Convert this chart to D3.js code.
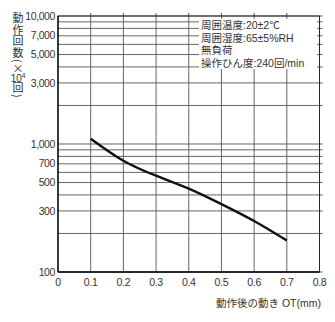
<!DOCTYPE html>
<html><head><meta charset="utf-8">
<script src="https://cdn.jsdelivr.net/npm/d3@7"></script>
<style>body{margin:0;background:#fff}svg{display:block}</style>
</head><body><svg id="c" width="335" height="322"></svg>
<script>
const otValues = [0.1, 0.2, 0.3, 0.4, 0.5, 0.6, 0.7];
const cycleValues = [1100, 740, 565, 448, 339, 250, 176];
const xTicks = [0, 0.1, 0.2, 0.3, 0.4, 0.5, 0.6, 0.7, 0.8];
const yTickLabels = [100, 300, 500, 700, 1000, 3000, 5000, 7000, 10000];
const yGrid = [100,200,300,400,500,600,700,800,900,1000,2000,3000,4000,5000,6000,7000,8000,9000,10000];
const notes = ["周囲温度:20±2℃", "周囲湿度:65±5%RH", "無負荷", "操作ひん度:240回/min"];
const xTitle = "動作後の動き OT(mm)";
const yTitleTop = "動作回数(×";
const yTitleExp = ["10", "4"];
const yTitleBottom = "回)";

const svg = d3.select("#c");
const L = 58, R = 319.5, T = 16, B = 272;
const x = d3.scaleLinear().domain([0, 0.8]).range([L, R]);
const y = d3.scaleLog().domain([100, 10000]).range([B, T]);
const txt = "#333", font = "'Liberation Sans', Arial, sans-serif", cjk = "'Noto Sans CJK JP', sans-serif";
const mixed = "'Liberation Sans', 'Noto Sans CJK JP', sans-serif";

// grid
svg.append("g").selectAll("line").data(yGrid).join("line")
  .attr("x1", L).attr("x2", R).attr("y1", d => y(d)).attr("y2", d => y(d))
  .attr("stroke", "#555").attr("stroke-width", 0.9);
svg.append("g").selectAll("line").data(xTicks.slice(1)).join("line")
  .attr("x1", d => x(d)).attr("x2", d => x(d)).attr("y1", T).attr("y2", B)
  .attr("stroke", "#555").attr("stroke-width", 0.9);

// right & top outward ticks
svg.append("g").selectAll("line").data(yGrid).join("line")
  .attr("x1", R).attr("x2", R + 3).attr("y1", d => y(d)).attr("y2", d => y(d))
  .attr("stroke", "#444").attr("stroke-width", 0.9);
svg.append("g").selectAll("line").data(xTicks.slice(1, -1)).join("line")
  .attr("x1", d => x(d)).attr("x2", d => x(d)).attr("y1", T).attr("y2", T - 3)
  .attr("stroke", "#444").attr("stroke-width", 0.9);

// notes box
svg.append("rect").attr("x", 199).attr("y", 19).attr("width", 118).attr("height", 50).attr("fill", "#fff");
svg.append("g").selectAll("text").data(notes).join("text")
  .attr("x", 201).attr("y", (d, i) => 29 + i * 12.6)
  .attr("font-family", mixed).attr("font-size", 10.5).attr("fill", txt).text(d => d);

// frame
svg.append("rect").attr("x", L).attr("y", T).attr("width", R - L).attr("height", B - T)
  .attr("fill", "none").attr("stroke", "#222").attr("stroke-width", 0.9);
svg.append("line").attr("x1", L).attr("x2", L).attr("y1", T).attr("y2", B).attr("stroke", "#111").attr("stroke-width", 1.4);
svg.append("line").attr("x1", L).attr("x2", R).attr("y1", B).attr("y2", B).attr("stroke", "#111").attr("stroke-width", 1.4);

// curve
const line = d3.line().x((d, i) => x(otValues[i])).y(d => y(d)).curve(d3.curveNatural);
svg.append("path").datum(cycleValues).attr("d", line).attr("fill", "none")
  .attr("stroke", "#111").attr("stroke-width", 2.4);

// y labels
const fmt = d3.format(",");
svg.append("g").selectAll("text").data(yTickLabels).join("text")
  .attr("x", 55).attr("y", d => y(d) + 3.6).attr("text-anchor", "end")
  .attr("font-family", font).attr("font-size", 10.5).attr("letter-spacing", -0.4)
  .attr("fill", txt).text(d => fmt(d));

// x labels
svg.append("g").selectAll("text").data(xTicks).join("text")
  .attr("x", d => x(d)).attr("y", 285.5).attr("text-anchor", "middle")
  .attr("font-family", font).attr("font-size", 10.5).attr("letter-spacing", -0.3)
  .attr("fill", txt).text(d => d === 0 ? "0" : d3.format(".1f")(d));

// x title
svg.append("text").attr("x", 321).attr("y", 306.5).attr("text-anchor", "end")
  .attr("font-family", mixed).attr("font-size", 10.5).attr("fill", txt).text(xTitle);

// y title (vertical)
svg.append("text").attr("x", 18).attr("y", 12.5)
  .style("writing-mode", "vertical-rl").attr("font-family", cjk).attr("font-size", 11)
  .attr("letter-spacing", 0.6).attr("fill", txt).text(yTitleTop);
const tt = svg.append("text").attr("x", 18).attr("y", 81.5).attr("text-anchor", "middle")
  .attr("font-family", font).attr("font-size", 10).attr("fill", txt);
tt.append("tspan").text(yTitleExp[0]);
tt.append("tspan").attr("font-size", 6.5).attr("dy", -4).text(yTitleExp[1]);
svg.append("text").attr("x", 18).attr("y", 82.5)
  .style("writing-mode", "vertical-rl").attr("font-family", cjk).attr("font-size", 11)
  .attr("letter-spacing", 0.6).attr("fill", txt).text(yTitleBottom);
</script></body></html>
